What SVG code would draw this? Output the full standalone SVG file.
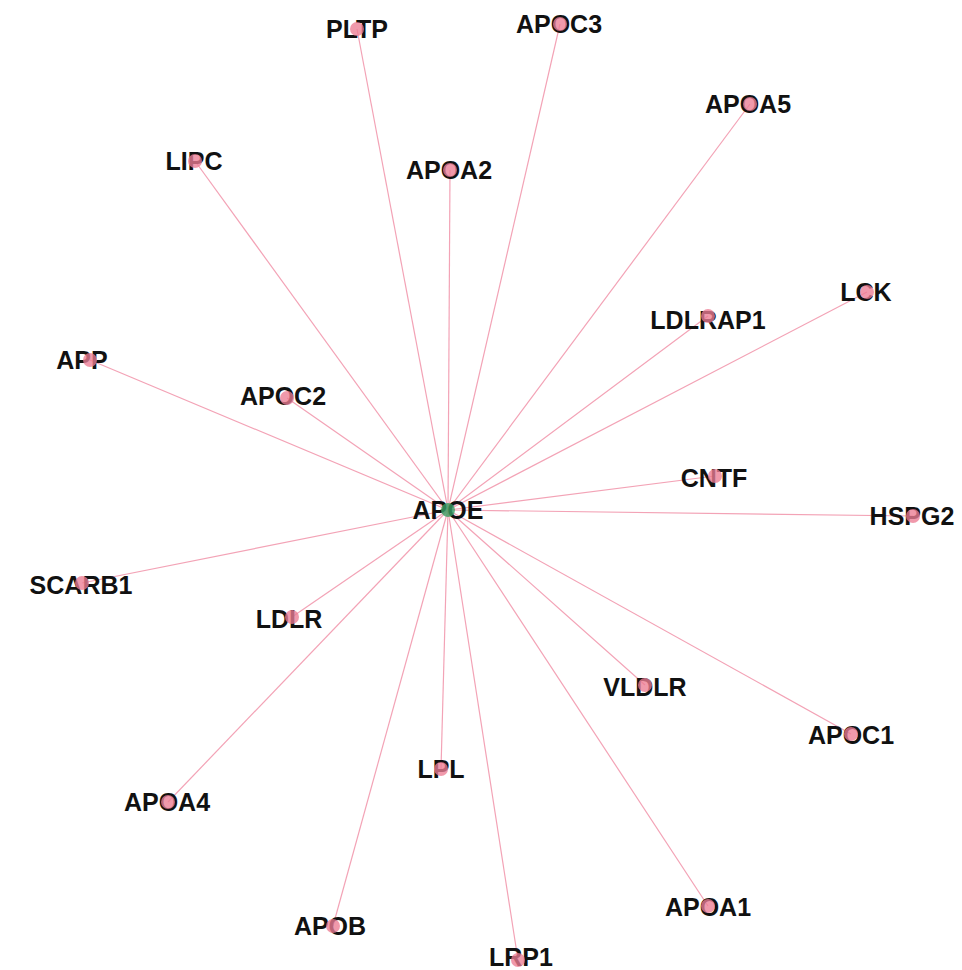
<svg xmlns="http://www.w3.org/2000/svg" width="962" height="970" viewBox="0 0 962 970">
  <style>
    .edge { stroke: #f3a3b6; stroke-width: 1.2; fill: none; }
    .label { font-family: "Liberation Sans", Arial, sans-serif; font-weight: bold; font-size: 25px; fill: #111; text-anchor: middle; }
    .dot { fill: #ec7c93; fill-opacity: 0.78; }
    .hub { fill: #3a9e62; fill-opacity: 0.8; }
  </style>
  <rect width="962" height="970" fill="#ffffff"/>

  <!-- connectors: every partner links to APOE -->
  <g id="edges">
    <line class="edge" x1="448" y1="510" x2="357" y2="29"/>
    <line class="edge" x1="448" y1="510" x2="560" y2="24"/>
    <line class="edge" x1="448" y1="510" x2="750" y2="104"/>
    <line class="edge" x1="448" y1="510" x2="195" y2="161"/>
    <line class="edge" x1="448" y1="510" x2="450" y2="170"/>
    <line class="edge" x1="448" y1="510" x2="867" y2="292"/>
    <line class="edge" x1="448" y1="510" x2="708" y2="316"/>
    <line class="edge" x1="448" y1="510" x2="90" y2="360"/>
    <line class="edge" x1="448" y1="510" x2="287" y2="398"/>
    <line class="edge" x1="448" y1="510" x2="715" y2="476"/>
    <line class="edge" x1="448" y1="510" x2="913" y2="516"/>
    <line class="edge" x1="448" y1="510" x2="82" y2="583"/>
    <line class="edge" x1="448" y1="510" x2="292" y2="617"/>
    <line class="edge" x1="448" y1="510" x2="645" y2="685"/>
    <line class="edge" x1="448" y1="510" x2="851" y2="734"/>
    <line class="edge" x1="448" y1="510" x2="441" y2="769"/>
    <line class="edge" x1="448" y1="510" x2="168" y2="802"/>
    <line class="edge" x1="448" y1="510" x2="708" y2="906"/>
    <line class="edge" x1="448" y1="510" x2="333" y2="926"/>
    <line class="edge" x1="448" y1="510" x2="518" y2="960"/>
  </g>

  <g id="PLTP"><text class="label" x="357" y="38">PLTP</text><circle class="dot" cx="357" cy="29" r="7"/></g>
  <g id="APOC3"><text class="label" x="559" y="33">APOC3</text><circle class="dot" cx="560" cy="24" r="7"/></g>
  <g id="APOA5"><text class="label" x="748" y="113">APOA5</text><circle class="dot" cx="750" cy="104" r="7"/></g>
  <g id="LIPC"><text class="label" x="194" y="170">LIPC</text><circle class="dot" cx="195" cy="161" r="7"/></g>
  <g id="APOA2"><text class="label" x="449" y="179">APOA2</text><circle class="dot" cx="450" cy="170" r="7"/></g>
  <g id="LCK"><text class="label" x="866" y="301">LCK</text><circle class="dot" cx="867" cy="292" r="7"/></g>
  <g id="LDLRAP1"><text class="label" x="708" y="329">LDLRAP1</text><circle class="dot" cx="708" cy="316" r="7"/></g>
  <g id="APP"><text class="label" x="82" y="369">APP</text><circle class="dot" cx="90" cy="360" r="7"/></g>
  <g id="APOC2"><text class="label" x="283" y="405">APOC2</text><circle class="dot" cx="287" cy="398" r="7"/></g>
  <g id="CNTF"><text class="label" x="714" y="487">CNTF</text><circle class="dot" cx="715" cy="476" r="7"/></g>
  <g id="HSPG2"><text class="label" x="912" y="525">HSPG2</text><circle class="dot" cx="913" cy="516" r="7"/></g>
  <g id="SCARB1"><text class="label" x="81" y="594">SCARB1</text><circle class="dot" cx="82" cy="583" r="7"/></g>
  <g id="LDLR"><text class="label" x="289" y="628">LDLR</text><circle class="dot" cx="292" cy="617" r="7"/></g>
  <g id="VLDLR"><text class="label" x="645" y="696">VLDLR</text><circle class="dot" cx="645" cy="685" r="7"/></g>
  <g id="APOC1"><text class="label" x="851" y="744">APOC1</text><circle class="dot" cx="851" cy="734" r="7"/></g>
  <g id="LPL"><text class="label" x="441" y="778">LPL</text><circle class="dot" cx="441" cy="769" r="7"/></g>
  <g id="APOA4"><text class="label" x="167" y="811">APOA4</text><circle class="dot" cx="168" cy="802" r="7"/></g>
  <g id="APOA1"><text class="label" x="708" y="916">APOA1</text><circle class="dot" cx="708" cy="906" r="7"/></g>
  <g id="APOB"><text class="label" x="330" y="935">APOB</text><circle class="dot" cx="333" cy="926" r="7"/></g>
  <g id="LRP1"><text class="label" x="521" y="966">LRP1</text><circle class="dot" cx="518" cy="960" r="7"/></g>
  <g id="APOE"><text class="label" x="448" y="519">APOE</text><circle class="hub" cx="448" cy="510" r="7"/></g>
</svg>
